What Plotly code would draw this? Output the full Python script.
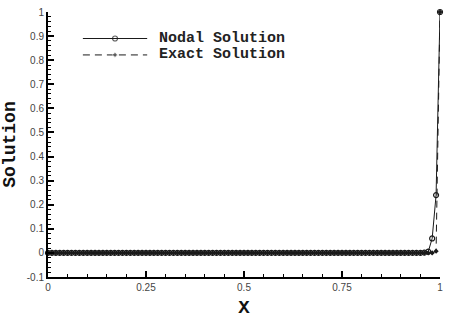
import plotly.graph_objects as go

# Mesh nodes on [0, 1]
x_nodes = [round(i * 0.01, 2) for i in range(101)]

# Computed nodal values (boundary layer at x = 1)
nodal_solution = [0.0] * 96 + [0.001, 0.005, 0.06, 0.24, 1.0]

# Analytic solution sampled at the same nodes
exact_solution = [0.0] * 99 + [0.007, 1.0]

# Axis tick positions and labels
y_tick_vals = [-0.1, 0, 0.1, 0.2, 0.3, 0.4, 0.5, 0.6, 0.7, 0.8, 0.9, 1]
y_tick_text = ["-0.1", "0", "0.1", "0.2", "0.3", "0.4", "0.5", "0.6", "0.7", "0.8", "0.9", "1"]
x_tick_vals = [0, 0.25, 0.5, 0.75, 1]
x_tick_text = ["0", "0.25", "0.5", "0.75", "1"]

# Legend entries
legend_labels = ["Nodal Solution", "Exact Solution"]

ink = "#1a1a1a"
mono = "Liberation Mono"
sans = "Liberation Sans"

nodal_style = dict(
    line=dict(color=ink, width=1),
    marker=dict(symbol="circle-open", color=ink, line=dict(width=1.2, color=ink)),
)
exact_style = dict(
    line=dict(color=ink, width=1, dash="7px,5px"),
    marker=dict(symbol="diamond", color=ink),
)

fig = go.Figure()

fig.add_trace(go.Scatter(
    x=x_nodes, y=nodal_solution, name=legend_labels[0],
    mode="lines+markers", line=nodal_style["line"],
    marker=dict(**nodal_style["marker"], size=5),
    cliponaxis=False, showlegend=False,
))

fig.add_trace(go.Scatter(
    x=x_nodes, y=exact_solution, name=legend_labels[1],
    mode="lines+markers", line=exact_style["line"],
    marker=dict(**exact_style["marker"], size=4),
    cliponaxis=False, showlegend=False,
))

# Legend key drawn on an overlay axis spanning the plot area (0..1 in both directions)
key_x = [0.089, 0.171, 0.253]
key_rows = [0.900, 0.838]
for label, style, msize, row in zip(legend_labels, [nodal_style, exact_style], [5, 4], key_rows):
    fig.add_trace(go.Scatter(
        x=key_x, y=[row] * 3, xaxis="x2", yaxis="y2",
        mode="lines+markers", line=style["line"],
        marker=dict(**style["marker"], size=[0, msize, 0]),
        hoverinfo="skip", showlegend=False,
    ))
    fig.add_annotation(
        x=0.278, y=row, xref="x2", yref="y2",
        text="<b>" + label + "</b>", showarrow=False,
        xanchor="left", yanchor="middle",
        font=dict(family=mono, size=15, color="#222"),
    )

axis_common = dict(
    showgrid=False, zeroline=False,
    showline=True, linecolor="black", linewidth=2,
    ticks="inside", ticklen=6, tickwidth=1.5, tickcolor="black",
    tickfont=dict(family=sans, size=10, color="#444"),
    mirror=False,
)

fig.update_layout(
    width=449, height=320,
    margin=dict(l=48, r=6, t=9, b=40),
    paper_bgcolor="white", plot_bgcolor="white",
    showlegend=False,
    xaxis=dict(
        range=[0, 1],
        tickvals=x_tick_vals, ticktext=x_tick_text,
        minor=dict(dtick=0.05, ticks="inside", ticklen=3, tickwidth=1, tickcolor="black"),
        title=dict(text="<b>X</b>", font=dict(family=mono, size=19, color="#111"), standoff=8),
        **axis_common,
    ),
    yaxis=dict(
        range=[-0.1, 1],
        tickvals=y_tick_vals, ticktext=y_tick_text,
        minor=dict(dtick=0.02, ticks="inside", ticklen=3, tickwidth=1, tickcolor="black"),
        title=dict(text="<b>Solution</b>", font=dict(family=mono, size=18, color="#111"), standoff=7),
        **axis_common,
    ),
    xaxis2=dict(overlaying="x", range=[0, 1], visible=False, fixedrange=True),
    yaxis2=dict(overlaying="y", range=[0, 1], visible=False, fixedrange=True),
)

fig.write_html("out.html")
